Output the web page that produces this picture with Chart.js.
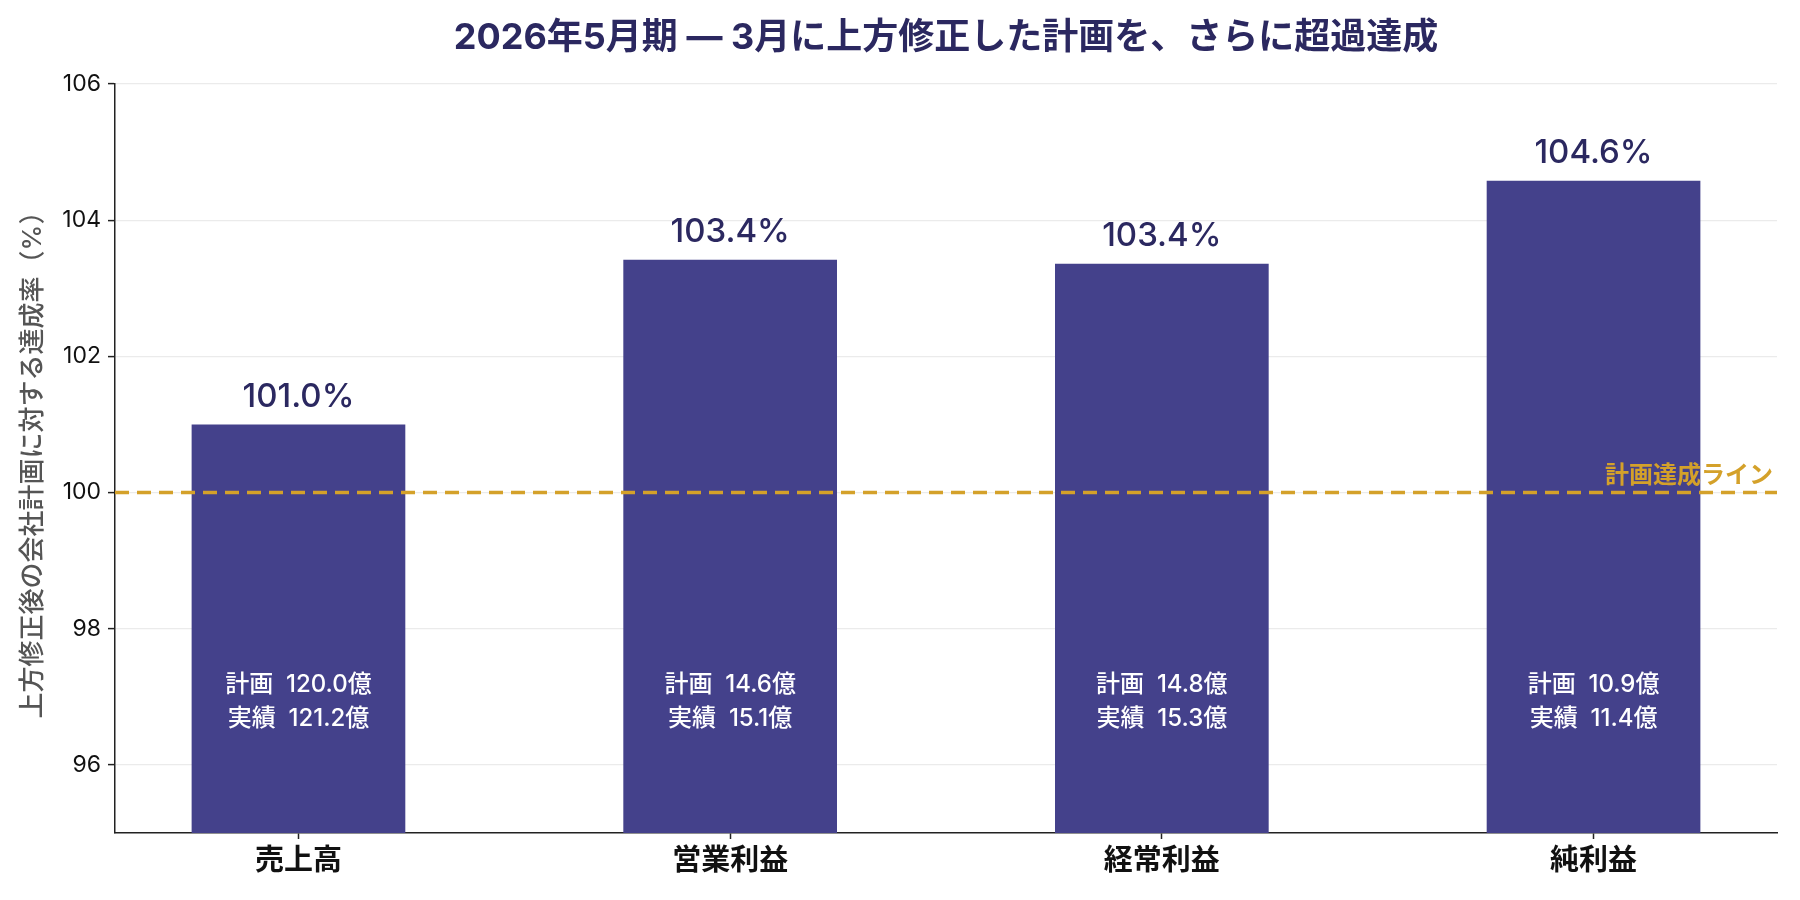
<!DOCTYPE html>
<html lang="ja">
<head>
<meta charset="utf-8">
<title>達成率</title>
<script src="https://cdn.jsdelivr.net/npm/chart.js@4/dist/chart.umd.min.js"></script>
<style>
  html, body { margin: 0; padding: 0; background: #fff; }
  #wrap { width: 1800px; height: 900px; }
</style>
</head>
<body>
<div id="wrap"><canvas id="chartRate"></canvas></div>
<script>
// 項目と達成率（上方修正後の会社計画比）
const categories = ['売上高', '営業利益', '経常利益', '純利益'];
const rates = [101.0, 103.42, 103.36, 104.58];
const planValues = [120.0, 14.6, 14.8, 10.9];
const actualValues = [121.2, 15.1, 15.3, 11.4];
const yTicks = [96, 98, 100, 102, 104, 106];
const targetRate = 100;
const innerLabelAt = 96.93;

const FONT = "Inter, 'Noto Sans CJK JP', sans-serif";
const NAVY = '#2b2860';
const BAR = '#44418b';
const GOLD = '#d4a12a';

// 注記・目標ライン・タイトルは後描き
const annotate = {
    id: 'annotate',
    afterDatasetsDraw(chart) {
        const { ctx, chartArea, scales } = chart;
        const y = scales.y;
        ctx.save();

        // 計画達成ライン
        const ty = y.getPixelForValue(targetRate);
        ctx.strokeStyle = GOLD;
        ctx.lineWidth = 3.5;
        ctx.setLineDash([14, 8]);
        ctx.beginPath();
        ctx.moveTo(chartArea.left, ty);
        ctx.lineTo(chartArea.right, ty);
        ctx.stroke();
        ctx.setLineDash([]);
        ctx.fillStyle = GOLD;
        ctx.font = `bold 24px ${FONT}`;
        ctx.textAlign = 'right';
        ctx.textBaseline = 'bottom';
        ctx.fillText('計画達成ライン', chartArea.right - 4, ty - 5);

        const meta = chart.getDatasetMeta(0);
        meta.data.forEach((bar, i) => {
            // 達成率
            ctx.fillStyle = NAVY;
            ctx.font = `500 33px ${FONT}`;
            ctx.textAlign = 'center';
            ctx.textBaseline = 'bottom';
            ctx.fillText(rates[i].toFixed(1) + '%', bar.x, bar.y - 11);

            // 計画・実績
            const cy = y.getPixelForValue(innerLabelAt);
            ctx.fillStyle = '#ffffff';
            ctx.font = `500 24px ${FONT}`;
            ctx.textBaseline = 'middle';
            ctx.fillText(`計画  ${planValues[i].toFixed(1)}億`, bar.x, cy - 17);
            ctx.fillText(`実績  ${actualValues[i].toFixed(1)}億`, bar.x, cy + 17);
        });

        // タイトル
        ctx.fillStyle = NAVY;
        ctx.font = `bold 36px ${FONT}`;
        ctx.textAlign = 'center';
        ctx.textBaseline = 'middle';
        ctx.fillText('2026年5月期 — 3月に上方修正した計画を、さらに超過達成',
            (chartArea.left + chartArea.right) / 2, 38);
        ctx.restore();
    }
};

function init() {
    const ctx = document.getElementById('chartRate').getContext('2d');

    new Chart(ctx, {
        type: 'bar',
        data: {
            datasets: [{
                data: rates.map((v, i) => ({ x: i, y: v })),
                backgroundColor: BAR,
                borderWidth: 0,
                barPercentage: 0.495,
                categoryPercentage: 1.0
            }]
        },
        options: {
            responsive: true,
            maintainAspectRatio: false,
            animation: false,
            layout: { padding: { top: 84, right: 23, left: 0, bottom: 0 } },
            plugins: {
                legend: { display: false },
                tooltip: { enabled: false }
            },
            scales: {
                x: {
                    type: 'linear',
                    min: -0.425,
                    max: 3.425,
                    offset: false,
                    afterBuildTicks: s => { s.ticks = categories.map((_, i) => ({ value: i })); },
                    afterFit: s => { s.height = 67; },
                    ticks: {
                        autoSkip: false,
                        maxRotation: 0,
                        padding: 5,
                        color: '#111',
                        font: { family: FONT, size: 29, weight: 'bold' },
                        callback: v => categories[v]
                    },
                    grid: {
                        offset: false,
                        drawOnChartArea: false,
                        drawTicks: true,
                        tickLength: 6,
                        tickColor: '#222',
                        tickWidth: 1.5
                    },
                    border: { color: '#222', width: 1.5 }
                },
                y: {
                    min: 95,
                    max: 106,
                    afterBuildTicks: s => { s.ticks = yTicks.map(v => ({ value: v })); },
                    afterFit: s => { s.width = 115; },
                    ticks: {
                        padding: 7,
                        color: '#111',
                        font: { family: FONT, size: 23 }
                    },
                    grid: {
                        color: '#ebebeb',
                        lineWidth: 1.2,
                        tickLength: 7,
                        tickColor: '#222',
                        tickWidth: 1.5
                    },
                    border: { color: '#222', width: 1.5 },
                    title: {
                        display: true,
                        text: '上方修正後の会社計画に対する達成率（%）',
                        color: '#555',
                        font: { family: FONT, size: 26, weight: '500' },
                        padding: { top: 18, bottom: 0 }
                    }
                }
            }
        },
        plugins: [annotate]
    });
}

document.addEventListener('DOMContentLoaded', init);
</script>
</body>
</html>
